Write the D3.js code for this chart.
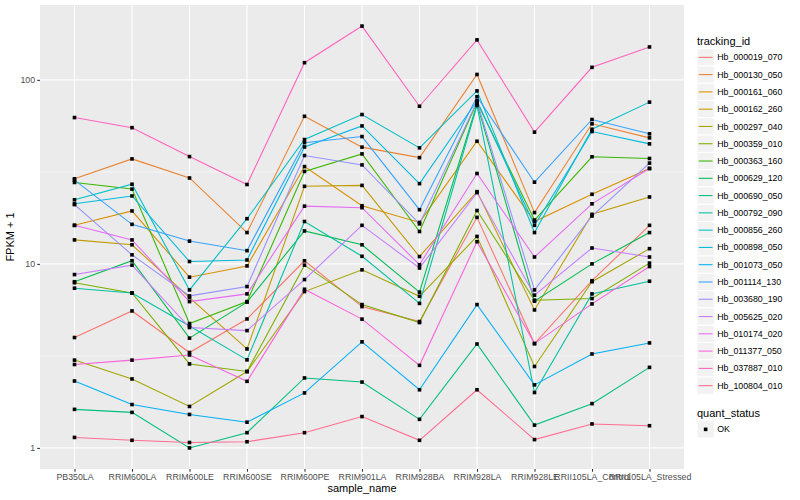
<!DOCTYPE html>
<html>
<head>
<meta charset="utf-8">
<script src="https://cdn.jsdelivr.net/npm/d3@7/dist/d3.min.js"></script>
<style>
  body { margin: 0; background: #fff; }
  text { font-family: "Liberation Sans", Arial, sans-serif; }
</style>
</head>
<body>
<svg id="chart"></svg>
<script>
// sample names on the x axis
const samples = ['PB350LA', 'RRIM600LA', 'RRIM600LE', 'RRIM600SE', 'RRIM600PE', 'RRIM901LA',
    'RRIM928BA', 'RRIM928LA', 'RRIM928LE', 'RRII105LA_Control', 'RRII105LA_Stressed']

const trackingIds = ['Hb_000019_070', 'Hb_000130_050', 'Hb_000161_060', 'Hb_000162_260', 'Hb_000297_040',
    'Hb_000359_010', 'Hb_000363_160', 'Hb_000629_120', 'Hb_000690_050', 'Hb_000792_090',
    'Hb_000856_260', 'Hb_000898_050', 'Hb_001073_050', 'Hb_001114_130', 'Hb_003680_190',
    'Hb_005625_020', 'Hb_010174_020', 'Hb_011377_050', 'Hb_037887_010', 'Hb_100804_010']

const colors = ['#F8766D', '#EA8331', '#D89000', '#C09B00', '#A3A500', '#7CAE00', '#39B600', '#00BB4E',
    '#00BF7D', '#00C1A3', '#00BFC4', '#00BAE0', '#00B0F6', '#35A2FF', '#9590FF', '#C77CFF',
    '#E76BF3', '#FA62DB', '#FF62BC', '#FF6C91']

// FPKM + 1 per gene, one value per sample
const hb000019 = [3.98, 5.55, 3.30, 5.02, 10.4, 5.86, 4.86, 17.9, 3.69, 8.1, 16.2]
const hb000130 = [29, 37.2, 29.3, 14.8, 63.4, 43.1, 37.8, 107, 19.0, 57.7, 48.4]
const hb000161 = [16.2, 19.4, 8.47, 9.75, 33.8, 20.7, 16.8, 46.4, 17.0, 23.9, 33.0]
const hb000162 = [13.5, 12.7, 6.56, 3.45, 26.4, 26.7, 10.96, 24.7, 5.62, 18.6, 23.1]
const hb000297 = [3.0, 2.37, 1.68, 2.6, 7.07, 9.28, 6.67, 14.1, 2.77, 8.0, 12.1]
const hb000359 = [7.9, 6.95, 2.86, 2.6, 9.84, 6.01, 4.80, 19.5, 6.35, 6.48, 10.1]
const hb000363 = [27.7, 25.5, 4.74, 6.24, 31.8, 39.6, 15.0, 75.5, 17.3, 38.2, 37.4]
const hb000629 = [8.0, 10.4, 3.95, 6.2, 15.1, 12.7, 7.02, 74, 6.27, 10.0, 14.8]
const hb000690 = [1.62, 1.56, 1.0, 1.21, 2.40, 2.28, 1.43, 3.67, 1.33, 1.74, 2.74]
const hb000792 = [7.38, 6.95, 4.6, 3.01, 17.0, 11.0, 6.1, 72.5, 2.00, 6.87, 8.05]
const hb000856 = [22.3, 27.1, 7.22, 17.6, 47.4, 64.8, 42.7, 87.1, 14.8, 53.9, 75.7]
const hb000898 = [21.2, 23.4, 10.3, 10.5, 43.2, 56.2, 27.3, 77, 16.2, 52.4, 44.9]
const hb001073 = [2.31, 1.72, 1.52, 1.38, 1.99, 3.77, 2.07, 6.01, 2.20, 3.24, 3.72]
const hb001114 = [28.5, 16.4, 13.3, 11.8, 45.6, 49.2, 19.7, 81, 27.8, 60.9, 50.9]
const hb003680 = [21.0, 11.2, 6.70, 7.53, 38.8, 34.5, 16.5, 76, 7.22, 18.2, 35.3]
const hb005625 = [8.75, 9.84, 4.51, 4.34, 8.22, 16.2, 9.5, 24.4, 6.76, 12.2, 10.9]
const hb010174 = [16.2, 13.5, 6.24, 6.87, 20.6, 20.2, 9.9, 31, 10.9, 21.2, 33.0]
const hb011377 = [2.84, 3.0, 3.20, 2.30, 7.28, 5.01, 2.81, 13.2, 3.69, 6.06, 9.67]
const hb037887 = [62.4, 55, 38.3, 27, 124, 196, 71.9, 165, 52, 117, 151]
const hb100804 = [1.14, 1.10, 1.07, 1.08, 1.21, 1.48, 1.10, 2.07, 1.11, 1.35, 1.32]

const yTicks = [1, 10, 100]
const yMinor = [Math.sqrt(10), Math.sqrt(1000)]

const values = [hb000019, hb000130, hb000161, hb000162, hb000297, hb000359, hb000363, hb000629,
    hb000690, hb000792, hb000856, hb000898, hb001073, hb001114, hb003680, hb005625,
    hb010174, hb011377, hb037887, hb100804]

const series = trackingIds.map((id, i) => ({
    id: id,
    color: colors[i],
    points: samples.map((s, j) => ({ sample: s, value: values[i][j] }))
}))

const width = 800
const height = 500
const panel = { left: 40, right: 684, top: 5, bottom: 469 }

const svg = d3.select('#chart')
    .attr('width', width)
    .attr('height', height)

const xScale = d3.scalePoint()
    .domain(samples)
    .range([panel.left, panel.right])
    .padding(0.6)

// log axis, expanded by 5% like ggplot
const allValues = values.flat()
const lmin = Math.log10(d3.min(allValues))
const lmax = Math.log10(d3.max(allValues))
const ext = (lmax - lmin) * 0.05
const yScale = d3.scaleLog()
    .domain([Math.pow(10, lmin - ext), Math.pow(10, lmax + ext)])
    .range([panel.bottom, panel.top])

// panel background
svg.append('rect')
    .attr('x', panel.left)
    .attr('y', panel.top)
    .attr('width', panel.right - panel.left)
    .attr('height', panel.bottom - panel.top)
    .attr('fill', '#EBEBEB')

const grid = svg.append('g')
grid.selectAll('.minor')
    .data(yMinor)
    .enter()
    .append('line')
    .attr('x1', panel.left)
    .attr('x2', panel.right)
    .attr('y1', d => yScale(d))
    .attr('y2', d => yScale(d))
    .attr('stroke', '#fff')
    .attr('stroke-width', 0.53)
grid.selectAll('.major-y')
    .data(yTicks)
    .enter()
    .append('line')
    .attr('x1', panel.left)
    .attr('x2', panel.right)
    .attr('y1', d => yScale(d))
    .attr('y2', d => yScale(d))
    .attr('stroke', '#fff')
    .attr('stroke-width', 1.07)
grid.selectAll('.major-x')
    .data(samples)
    .enter()
    .append('line')
    .attr('x1', d => xScale(d))
    .attr('x2', d => xScale(d))
    .attr('y1', panel.top)
    .attr('y2', panel.bottom)
    .attr('stroke', '#fff')
    .attr('stroke-width', 1.07)

// lines
const line = d3.line()
    .x(d => xScale(d.sample))
    .y(d => yScale(d.value))

svg.append('g')
    .selectAll('path')
    .data(series)
    .enter()
    .append('path')
    .attr('d', d => line(d.points))
    .attr('fill', 'none')
    .attr('stroke', d => d.color)
    .attr('stroke-width', 1.07)

// points
svg.append('g')
    .selectAll('rect')
    .data(series.flatMap(s => s.points))
    .enter()
    .append('rect')
    .attr('x', d => xScale(d.sample) - 1.8)
    .attr('y', d => yScale(d.value) - 1.8)
    .attr('width', 3.6)
    .attr('height', 3.6)
    .attr('fill', '#000')

// axes
const xAxis = d3.axisBottom(xScale).tickSize(2.75).tickPadding(2.2)
const gx = svg.append('g')
    .attr('transform', `translate(0,${panel.bottom})`)
    .call(xAxis)
gx.select('.domain').remove()
gx.selectAll('.tick line').attr('stroke', '#333333').attr('stroke-width', 1.07)
gx.selectAll('.tick text').attr('fill', '#4D4D4D').style('font-size', '8.8px')

const yAxis = d3.axisLeft(yScale).tickValues(yTicks).tickFormat(d3.format('d')).tickSize(2.75).tickPadding(2.2)
const gy = svg.append('g')
    .attr('transform', `translate(${panel.left},0)`)
    .call(yAxis)
gy.select('.domain').remove()
gy.selectAll('.tick line').attr('stroke', '#333333').attr('stroke-width', 1.07)
gy.selectAll('.tick text').attr('fill', '#4D4D4D').style('font-size', '8.8px')

svg.append('text')
    .attr('x', (panel.left + panel.right) / 2)
    .attr('y', 492)
    .attr('text-anchor', 'middle')
    .style('font-size', '11px')
    .text('sample_name')

svg.append('text')
    .attr('transform', `translate(14,${(panel.top + panel.bottom) / 2}) rotate(-90)`)
    .attr('text-anchor', 'middle')
    .style('font-size', '11px')
    .text('FPKM + 1')

// legend
const keySize = 17.28
const legendX = 697
const legend = svg.append('g')
legend.append('text')
    .attr('x', legendX)
    .attr('y', 44.5)
    .style('font-size', '11px')
    .text('tracking_id')

const items = legend.selectAll('.item')
    .data(series)
    .enter()
    .append('g')
    .attr('transform', (d, i) => `translate(${legendX},${48.7 + i * keySize})`)
items.append('rect')
    .attr('width', keySize)
    .attr('height', keySize)
    .attr('fill', '#F2F2F2')
    .attr('stroke', '#fff')
items.append('line')
    .attr('x1', 1.7)
    .attr('x2', keySize - 1.7)
    .attr('y1', keySize / 2)
    .attr('y2', keySize / 2)
    .attr('stroke', d => d.color)
    .attr('stroke-width', 1.07)
items.append('text')
    .attr('x', keySize + 3)
    .attr('y', keySize / 2)
    .attr('dy', '0.35em')
    .style('font-size', '8.8px')
    .text(d => d.id)

legend.append('text')
    .attr('x', legendX)
    .attr('y', 416.5)
    .style('font-size', '11px')
    .text('quant_status')
const ok = legend.append('g')
    .attr('transform', `translate(${legendX},${420.7})`)
ok.append('rect')
    .attr('width', keySize)
    .attr('height', keySize)
    .attr('fill', '#F2F2F2')
    .attr('stroke', '#fff')
ok.append('rect')
    .attr('x', keySize / 2 - 1.8)
    .attr('y', keySize / 2 - 1.8)
    .attr('width', 3.6)
    .attr('height', 3.6)
    .attr('fill', '#000')
ok.append('text')
    .attr('x', keySize + 3)
    .attr('y', keySize / 2)
    .attr('dy', '0.35em')
    .style('font-size', '8.8px')
    .text('OK')
</script>
</body>
</html>
